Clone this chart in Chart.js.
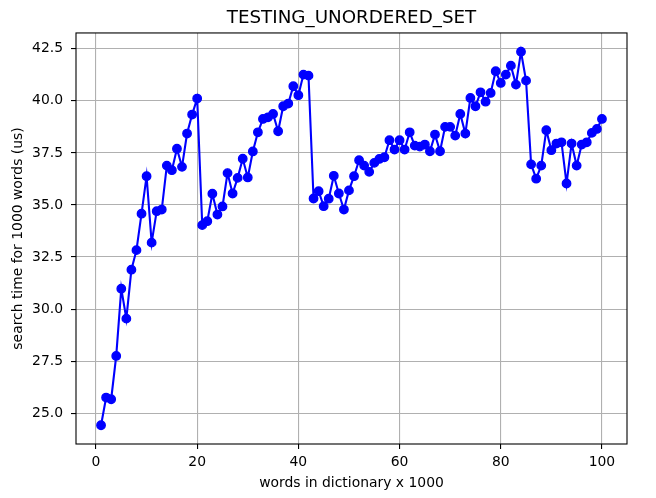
<!DOCTYPE html>
<html>
<head>
<meta charset="utf-8">
<title>TESTING_UNORDERED_SET</title>
<script src="https://cdn.jsdelivr.net/npm/chart.js@4"></script>
<style>
    html, body { margin: 0; padding: 0; background: #ffffff; }
    #chartBox { width: 656px; height: 498px; }
</style>
</head>
<body>
<div id="chartBox"><canvas id="searchChart" width="656" height="498"></canvas></div>
<script>
// words in dictionary (x 1000)
const dictSizes = [
    1, 2, 3, 4, 5, 6, 7, 8, 9, 10,
    11, 12, 13, 14, 15, 16, 17, 18, 19, 20,
    21, 22, 23, 24, 25, 26, 27, 28, 29, 30,
    31, 32, 33, 34, 35, 36, 37, 38, 39, 40,
    41, 42, 43, 44, 45, 46, 47, 48, 49, 50,
    51, 52, 53, 54, 55, 56, 57, 58, 59, 60,
    61, 62, 63, 64, 65, 66, 67, 68, 69, 70,
    71, 72, 73, 74, 75, 76, 77, 78, 79, 80,
    81, 82, 83, 84, 85, 86, 87, 88, 89, 90,
    91, 92, 93, 94, 95, 96, 97, 98, 99, 100
];

// search time for 1000 words (us)
const searchTimes = [
    24.42, 25.75, 25.67, 27.75, 30.98, 29.54, 31.89, 32.83, 34.58, 36.38,
    33.19, 34.70, 34.78, 36.89, 36.67, 37.70, 36.83, 38.43, 39.34, 40.11,
    34.03, 34.22, 35.54, 34.54, 34.93, 36.53, 35.55, 36.30, 37.22, 36.32,
    37.57, 38.49, 39.13, 39.21, 39.37, 38.54, 39.74, 39.87, 40.70, 40.27,
    41.26, 41.21, 35.31, 35.66, 34.94, 35.30, 36.40, 35.55, 34.78, 35.70,
    36.38, 37.15, 36.89, 36.59, 37.02, 37.21, 37.29, 38.11, 37.66, 38.11,
    37.66, 38.49, 37.85, 37.80, 37.90, 37.58, 38.38, 37.58, 38.75, 38.75,
    38.33, 39.37, 38.43, 40.14, 39.74, 40.41, 39.96, 40.38, 41.42, 40.86,
    41.26, 41.69, 40.78, 42.36, 40.97, 36.95, 36.26, 36.89, 38.59, 37.63,
    37.95, 38.01, 36.03, 37.95, 36.89, 37.90, 38.01, 38.46, 38.65, 39.13
];

// tick labels
const xTicks = [0, 20, 40, 60, 80, 100];
const yTicks = [25.0, 27.5, 30.0, 32.5, 35.0, 37.5, 40.0, 42.5];

const FONT = "'DejaVu Sans', sans-serif";

// black frame round the plot area, like matplotlib's spines
// also centre the title over the plot area instead of the whole canvas
const framePlugin = {
    id: 'frame',
    afterLayout(chart) {
        if (chart.titleBlock) {
            chart.titleBlock.left = chart.chartArea.left;
            chart.titleBlock.right = chart.chartArea.right;
        }
    },
    afterDraw(chart) {
        const { ctx, chartArea } = chart;
        ctx.save();
        ctx.strokeStyle = '#000000';
        ctx.lineWidth = 1.1;
        ctx.strokeRect(chartArea.left, chartArea.top,
            chartArea.right - chartArea.left, chartArea.bottom - chartArea.top);
        ctx.restore();
    }
};

const points = dictSizes.map((x, i) => ({ x: x, y: searchTimes[i] }));

const ctx = document.getElementById('searchChart').getContext('2d');
new Chart(ctx, {
    type: 'line',
    data: {
        datasets: [{
            data: points,
            borderColor: '#0000ff',
            backgroundColor: '#0000ff',
            borderWidth: 2.1,
            pointRadius: 4.2,
            pointHoverRadius: 4.2,
            pointBackgroundColor: '#0000ff',
            pointBorderColor: '#0000ff',
            pointBorderWidth: 1.4,
            tension: 0
        }]
    },
    options: {
        responsive: false,
        animation: false,
        layout: { padding: { left: 0, right: 29, top: 0, bottom: 0 } },
        plugins: {
            legend: { display: false },
            tooltip: { enabled: false },
            title: {
                display: true,
                text: 'TESTING_UNORDERED_SET',
                color: '#000000',
                font: { family: FONT, size: 18.3, weight: 'normal', lineHeight: 1.2 },
                padding: { top: 7, bottom: 4 }
            }
        },
        scales: {
            x: {
                type: 'linear',
                min: -3.95,
                max: 104.95,
                afterBuildTicks: (axis) => { axis.ticks = xTicks.map(v => ({ value: v })); },
                afterFit: (axis) => { axis.height = 54; },
                ticks: {
                    color: '#000000',
                    font: { family: FONT, size: 13.9 },
                    padding: 5,
                    maxRotation: 0,
                    callback: (v) => String(v)
                },
                grid: {
                    color: '#b0b0b0',
                    lineWidth: 1.1,
                    drawTicks: true,
                    tickLength: 5,
                    tickColor: '#000000'
                },
                border: { display: false },
                title: {
                    display: true,
                    text: 'words in dictionary x 1000',
                    color: '#000000',
                    font: { family: FONT, size: 13.9, lineHeight: 1.2 },
                    padding: { top: 4, bottom: 6.6 }
                }
            },
            y: {
                type: 'linear',
                min: 23.52,
                max: 43.26,
                afterBuildTicks: (axis) => { axis.ticks = yTicks.map(v => ({ value: v })); },
                afterFit: (axis) => { axis.width = 76; },
                ticks: {
                    color: '#000000',
                    font: { family: FONT, size: 13.9 },
                    padding: 8,
                    callback: (v) => Number(v).toFixed(1)
                },
                grid: {
                    color: '#b0b0b0',
                    lineWidth: 1.1,
                    drawTicks: true,
                    tickLength: 5,
                    tickColor: '#000000'
                },
                border: { display: false },
                title: {
                    display: true,
                    text: 'search time for 1000 words (us)',
                    color: '#000000',
                    font: { family: FONT, size: 13.9, lineHeight: 1.2 },
                    padding: { top: 10, bottom: 0 }
                }
            }
        }
    },
    plugins: [framePlugin]
});
</script>
</body>
</html>
